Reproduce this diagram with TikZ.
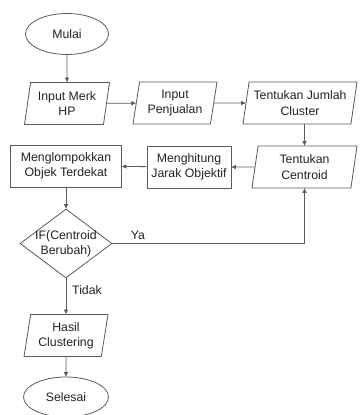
\documentclass[tikz,border=0pt]{standalone}
\usepackage{fontspec}
\setmainfont{Liberation Sans}
\usetikzlibrary{shapes.geometric,arrows.meta}
\definecolor{ln}{HTML}{5A5A5A}
\definecolor{tx}{HTML}{222222}
\begin{document}
\begin{tikzpicture}[x=1pt,y=-1pt,
  base/.style={draw=ln,line width=0.8pt,text=tx,font=\fontsize{12.3}{15.3}\selectfont,align=center,inner sep=0pt},
  term/.style={base,ellipse,minimum width=83pt,minimum height=41pt},
  io/.style={base,trapezium,trapezium left angle=76,trapezium right angle=104,trapezium stretches body,minimum height=42pt},
  proc/.style={base,rectangle,minimum height=42pt},
  dec/.style={base,diamond,minimum width=92pt,minimum height=69pt,aspect=1.33},
  arr/.style={draw=ln,line width=0.8pt,-{Triangle[length=4.5pt,width=4pt]}},
  lbl/.style={text=tx,font=\fontsize{12.3}{15.3}\selectfont,inner sep=0pt,align=center}]
\useasboundingbox (0,0) rectangle (359,415);
\node[term] (mulai) at (67,34) {Mulai};
\node[io,minimum width=85pt] (merk) at (67,103.5) {Input Merk\\HP};
\node[io,minimum width=84pt] (jual) at (175,103) {Input\\Penjualan};
\node[io,minimum width=114pt] (clus) at (300,103) {Tentukan Jumlah\\Cluster};
\node[io,minimum width=105pt] (cent) at (304.5,167) {Tentukan\\Centroid};
\node[proc,minimum width=84pt] (hit) at (189,167) {Menghitung\\Jarak Objektif};
\node[proc,minimum width=111pt] (grp) at (66,166) {Menglompokkan\\Objek Terdekat};
\node[dec,label={[lbl]center:IF(Centroid\\Berubah)}] (dec) at (66,243.5) {};
\node[io,minimum width=84pt] (hasil) at (66,335.5) {Hasil\\Clustering};
\node[term,minimum width=85pt,minimum height=40pt] (sel) at (66,397) {Selesai};
\draw[arr] (mulai) -- (merk);
\draw[arr] (merk) -- (jual);
\draw[arr] (jual) -- (clus);
\draw[arr] (cent.north |- clus.south) -- (cent.north);
\draw[arr] (cent) -- (hit);
\draw[arr] (hit) -- (grp);
\draw[arr] (grp) -- (dec);
\draw[arr] (dec.east) -| (cent.south);
\draw[arr] (dec) -- (hasil);
\draw[arr] (hasil) -- (sel);
\node[lbl] (ya) at (138,235) {Ya};
\node[lbl] (tidak) at (87,290) {Tidak};
\end{tikzpicture}
\end{document}
